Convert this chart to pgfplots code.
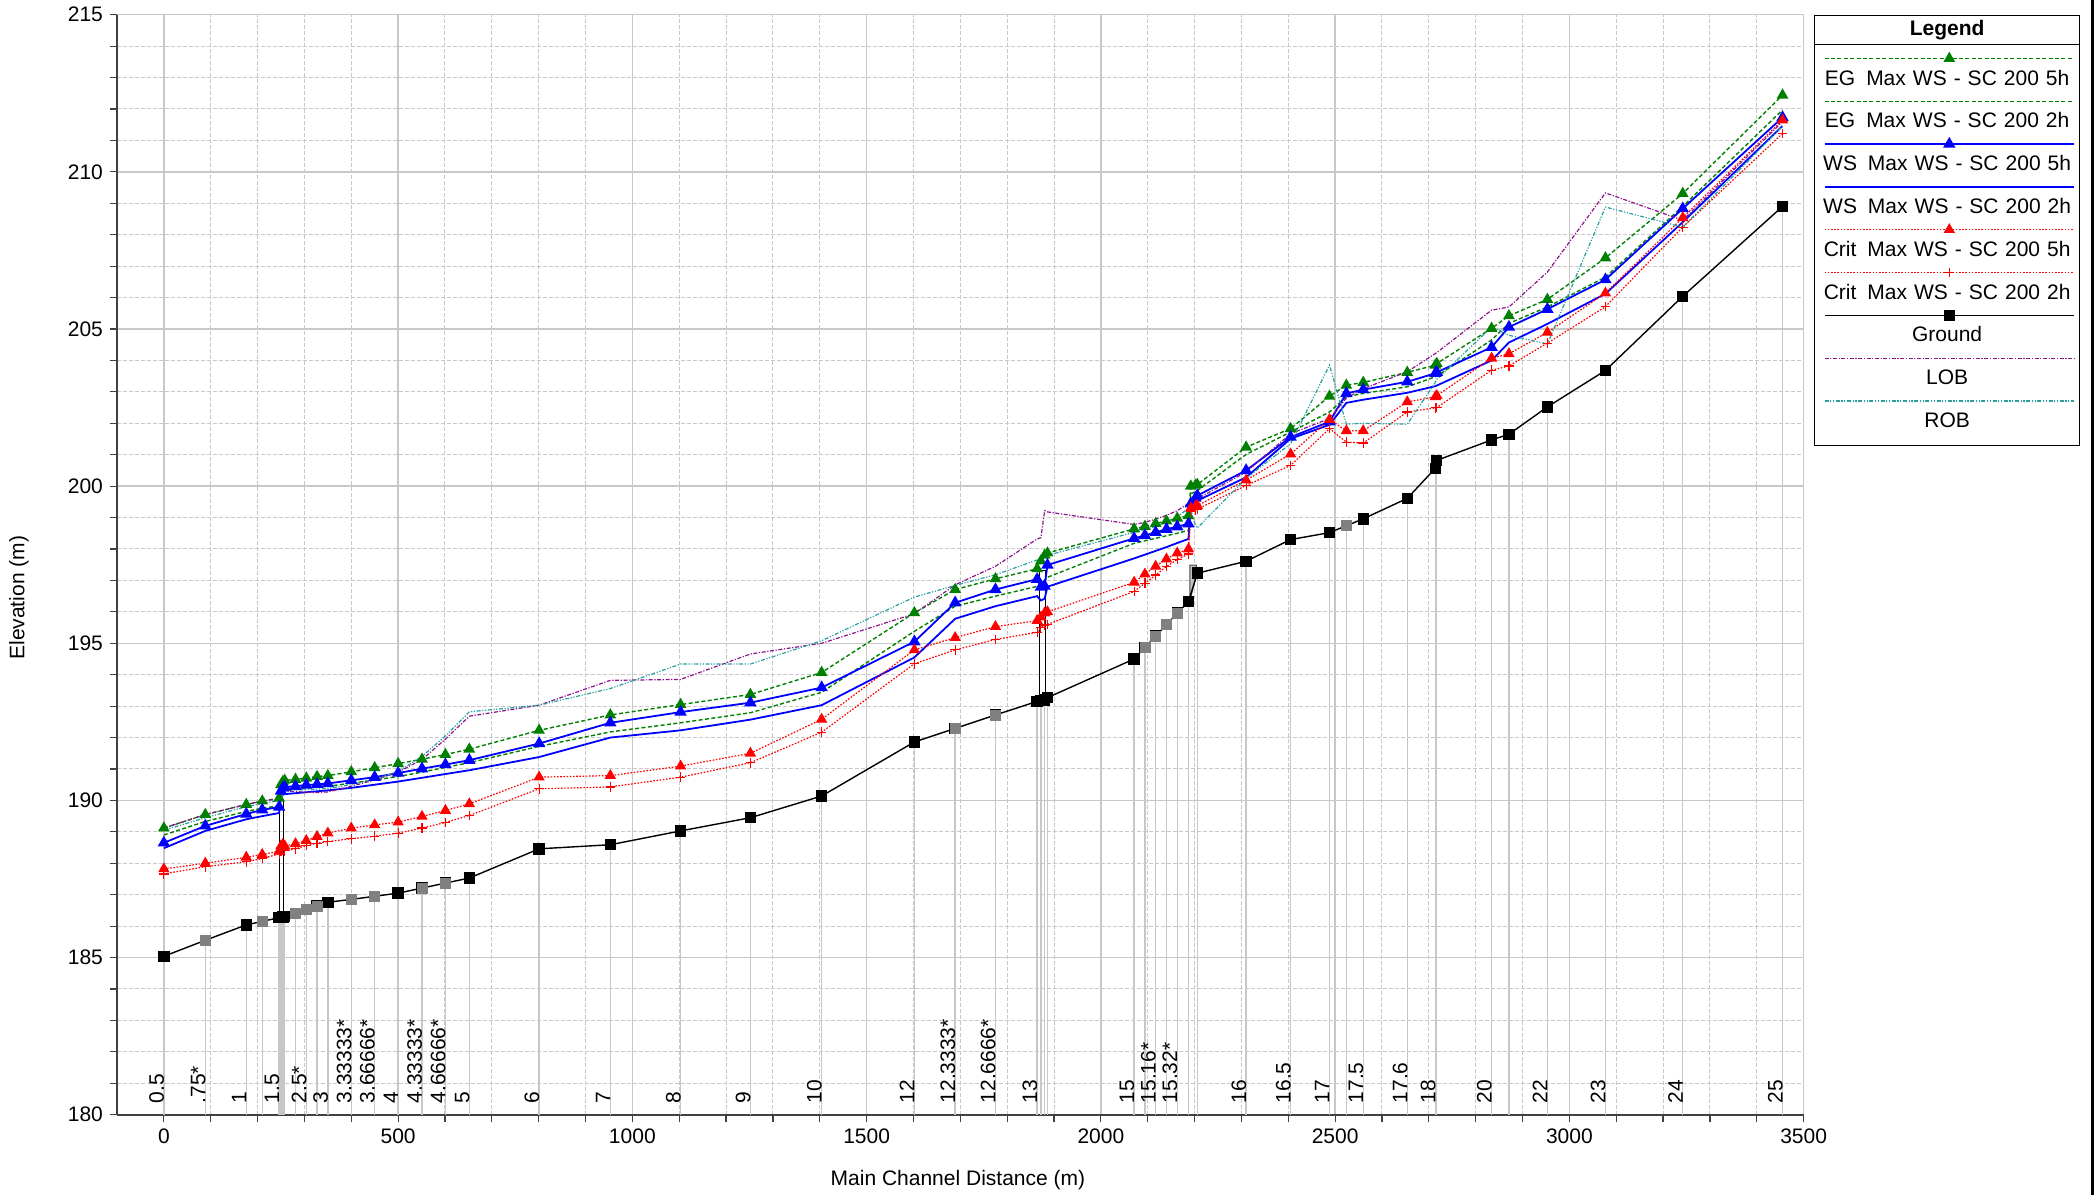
\documentclass[border=0pt]{standalone}
\usepackage{fontspec}
\setmainfont{Liberation Sans}
\setsansfont{Liberation Sans}
\usepackage{pgfplots}
\usepackage{pgfplotstable}
\pgfplotsset{compat=1.18}
\definecolor{egG}{RGB}{0,128,0}
\definecolor{wsB}{RGB}{0,0,255}
\definecolor{crR}{RGB}{255,0,0}
\definecolor{lobP}{RGB}{140,20,140}
\definecolor{robT}{RGB}{40,160,160}
\definecolor{gridG}{RGB}{200,200,200}
\newcommand{\fs}{\fontsize{10.5}{12}\selectfont}
\newcommand{\legap}{\hspace{5.5pt}}
\newcommand{\legtxt}[1]{\makebox[124.5pt][c]{#1}}

\pgfplotstableread{
x eg5 eg2 ws5 ws2 cr5 cr2 lob rob
0 189.12 188.90 188.65 188.48 187.82 187.66 189.12 189.05
88.5 189.55 189.33 189.19 189.03 188.00 187.89 189.55 189.45
176 189.87 189.65 189.57 189.40 188.19 188.05 189.87 189.80
210 189.98 189.75 189.70 189.50 188.28 188.15 189.98 189.90
246 190.07 189.83 189.79 189.60 188.38 188.30 190.05 190.00
250 190.50 190.20 190.30 190.10 188.55 188.40 190.10 190.05
254 190.60 190.30 190.40 190.18 188.60 188.42 190.20 190.20
258 190.64 190.33 190.43 190.20 188.55 188.40 190.30 190.32
281 190.67 190.36 190.45 190.23 188.62 188.46 190.28 190.33
304 190.71 190.39 190.49 190.26 188.72 188.56 190.26 190.34
327 190.76 190.42 190.51 190.29 188.85 188.64 190.25 190.36
350 190.79 190.45 190.54 190.32 188.96 188.69 190.27 190.38
400 190.91 190.55 190.64 190.40 189.12 188.78 190.45 190.50
450 191.04 190.65 190.74 190.50 189.22 188.86 190.65 190.68
500 191.17 190.76 190.87 190.60 189.31 188.96 190.90 190.92
551 191.31 190.90 191.01 190.72 189.49 189.12 191.30 191.40
601 191.46 191.05 191.14 190.84 189.68 189.30 191.95 192.05
652 191.63 191.20 191.28 190.96 189.89 189.52 192.68 192.82
801 192.23 191.72 191.81 191.38 190.74 190.37 193.03 193.03
953 192.72 192.18 192.47 192.00 190.79 190.43 193.82 193.56
1103 193.05 192.47 192.81 192.23 191.09 190.74 193.85 194.34
1252 193.37 192.79 193.11 192.57 191.50 191.20 194.66 194.34
1404 194.07 193.44 193.59 193.03 192.58 192.17 195.00 195.08
1602 195.97 195.38 195.05 194.55 194.79 194.35 195.94 196.47
1689 196.71 196.18 196.29 195.78 195.18 194.79 196.86 196.84
1775 197.05 196.50 196.71 196.18 195.53 195.12 197.45 197.18
1864 197.37 196.81 197.04 196.50 195.72 195.35 198.32 197.65
1872 197.62 196.90 196.79 196.36 195.83 195.50 198.36 197.68
1880 197.80 197.00 196.82 196.42 195.96 195.58 199.22 197.74
1886 197.87 197.10 197.49 196.80 196.00 195.60 199.18 197.80
2071 198.64 198.18 198.34 197.70 196.94 196.65 198.78 198.53
2094 198.72 198.26 198.43 197.82 197.20 196.91 198.85 198.62
2117 198.81 198.34 198.53 197.94 197.45 197.17 198.95 198.72
2140 198.89 198.42 198.63 198.06 197.68 197.44 199.07 198.86
2163 198.98 198.50 198.71 198.19 197.87 197.66 199.22 199.02
2187 199.06 198.59 198.80 198.32 198.00 197.84 199.45 199.30
2192 200.00 199.76 199.44 199.30 199.30 199.20 199.50 199.25
2202 200.03 199.82 199.62 199.46 199.36 199.25 199.56 198.75
2206 200.05 199.86 199.70 199.54 199.38 199.27 199.60 198.67
2310 201.24 201.01 200.50 200.28 200.19 200.02 200.45 200.25
2405 201.83 201.72 201.56 201.51 201.02 200.66 201.67 201.35
2488 202.86 202.36 202.05 201.95 202.12 201.83 202.15 203.85
2524 203.21 202.84 202.95 202.65 201.76 201.40 202.80 201.97
2560 203.30 202.95 203.07 202.75 201.76 201.37 203.10 202.00
2654 203.62 203.16 203.32 202.97 202.68 202.36 203.64 201.97
2714 203.85 203.48 203.59 203.18 202.84 202.49 204.22 203.30
2717 203.90 203.50 203.62 203.20 202.88 202.50 204.25 203.40
2834 205.02 204.65 204.42 204.00 204.07 203.69 205.60 205.06
2871 205.42 205.18 205.06 204.57 204.21 203.82 205.70 204.80
2953 205.94 205.70 205.63 205.16 204.89 204.55 206.81 204.52
3077 207.26 206.65 206.57 206.12 206.14 205.71 209.33 208.88
3242 209.31 208.90 208.83 208.40 208.54 208.24 208.46 208.24
3455 212.44 211.97 211.73 211.46 211.65 211.22 211.60 211.45
}\wstab

\pgfplotstableread{
x E
0 185.04
88.5 185.55
176 186.04
210 186.15
246 186.27
250 186.28
254 186.29
258 186.31
281 186.41
304 186.52
327 186.64
350 186.76
400 186.85
450 186.95
500 187.05
551 187.21
601 187.37
652 187.53
801 188.46
953 188.59
1103 189.03
1252 189.45
1404 190.14
1602 191.86
1689 192.29
1775 192.72
1864 193.15
1872 193.17
1880 193.20
1886 193.27
2071 194.50
2094 194.87
2117 195.23
2140 195.59
2163 195.96
2187 196.32
2206 197.23
2310 197.61
2405 198.30
2488 198.52
2524 198.74
2560 198.96
2654 199.61
2714 200.57
2717 200.82
2834 201.47
2871 201.65
2953 202.52
3077 203.68
3242 206.04
3455 208.90
}\grtab

\pgfplotstableread{
x E
88.5 185.55
210 186.15
281 186.41
304 186.52
327 186.64
400 186.85
450 186.95
551 187.21
601 187.37
1689 192.29
1775 192.72
2094 194.87
2117 195.23
2140 195.59
2163 195.96
2524 198.74
}\graytab

\begin{document}
\begin{tikzpicture}
\begin{axis}[
  name=ax,
  scale only axis, width=843.3pt, height=550pt,
  xmin=-100, xmax=3500, ymin=180, ymax=215,
  xtick={0,500,...,3500}, ytick={180,185,...,215},
  minor x tick num=4, minor y tick num=4,
  grid=both,
  major grid style={solid, draw=gridG, line width=0.7pt},
  minor grid style={draw=gridG, line width=0.5pt, dash pattern=on 2pt off 1pt},
  axis x line=bottom, axis y line=left,
  axis line style={-, draw=black!75, line width=0.9pt},
  tick align=outside, major tick length=3.5pt, minor tick length=3.5pt,
  tick style={draw=black!75, line width=0.6pt},
  ticklabel style={font=\fs},
  /pgf/number format/assume math mode=true,
  /pgf/number format/1000 sep={},
  label style={font=\fs},
  xlabel={Main Channel Distance (m)},
  ylabel={Elevation (m)},
  xlabel style={at={(axis description cs:0.4986,-0.0593)}, anchor=center},
  ylabel style={at={(axis description cs:-0.0581,0.47)}, anchor=center},
  legend style={at={(axis description cs:1.00617,1)}, anchor=north west,
    draw=black, line width=0.6pt, fill=white,
    inner xsep=4pt, inner ysep=2.15pt, row sep=10.9pt,
    /tikz/column sep=0pt, cells={anchor=base},
    nodes={inner sep=0pt, text width=124.5pt, align=center,
      text height=8pt, text depth=2.5pt, font=\fs}},
  legend image code/.code={\draw[overlay,mark repeat=2,mark phase=2,#1] plot coordinates {(1pt,13.3pt) (63.35pt,13.3pt) (125.7pt,13.3pt)};},
]
\addlegendimage{legend image code/.code={\draw[overlay,black,line width=0.6pt] (-4pt,-4.65pt) -- (128.5pt,-4.65pt);}}
\addlegendentry[text depth=5.85pt, font=\fs\bfseries]{\legtxt{Legend}}

% station lines
\addplot[ycomb, draw=black!22, line width=0.7pt, mark=none, forget plot] table[x=x,y=E]{\grtab};

% bridges
\addplot[black, line width=0.6pt, forget plot] coordinates {(247,186.28) (247,190.02) (256,190.02) (256,186.30)};
\addplot[black, line width=0.6pt, forget plot] coordinates {(1869,193.16) (1869,197.32) (1882,197.32) (1882,193.21)};
\addplot[draw=black!70, fill=black!25, line width=0.5pt, forget plot] coordinates {(2190,196.35) (2190,197.49) (2204,197.49) (2204,197.20) (2190,196.35)};

\addplot[egG, line width=0.7pt, dash pattern=on 2pt off 1.2pt, mark=triangle*, mark size=2.7pt, mark options={solid, fill=egG}] table[x=x,y=eg5]{\wstab};
\addlegendentry{\legtxt{EG\legap Max WS - SC 200 5h}}
\addplot[egG, line width=0.7pt, dash pattern=on 2pt off 1.2pt, mark=none] table[x=x,y=eg2]{\wstab};
\addlegendentry{\legtxt{EG\legap Max WS - SC 200 2h}}
\addplot[wsB, line width=0.9pt, solid, mark=triangle*, mark size=2.7pt, mark options={solid, fill=wsB}] table[x=x,y=ws5]{\wstab};
\addlegendentry{\legtxt{WS\legap Max WS - SC 200 5h}}
\addplot[wsB, line width=0.9pt, solid, mark=none] table[x=x,y=ws2]{\wstab};
\addlegendentry{\legtxt{WS\legap Max WS - SC 200 2h}}
\addplot[crR, line width=0.6pt, dash pattern=on 0.8pt off 0.8pt, mark=triangle*, mark size=2.7pt, mark options={solid, fill=crR}] table[x=x,y=cr5]{\wstab};
\addlegendentry{\legtxt{Crit\legap Max WS - SC 200 5h}}
\addplot[crR, line width=0.6pt, dash pattern=on 0.8pt off 0.8pt, mark=+, mark size=2.4pt, mark options={solid, line width=0.6pt}] table[x=x,y=cr2]{\wstab};
\addlegendentry{\legtxt{Crit\legap Max WS - SC 200 2h}}
\addplot[black, line width=0.7pt, solid, mark=square*, mark size=2.5pt, mark options={solid, fill=black}] table[x=x,y=E]{\grtab};
\addlegendentry{\legtxt{Ground}}
\addplot[only marks, mark=square*, mark size=2.5pt, draw=gray, fill=gray, forget plot] table[x=x,y=E]{\graytab};
\addplot[lobP, line width=0.6pt, dash pattern=on 2pt off 0.8pt on 0.6pt off 0.8pt, mark=none] table[x=x,y=lob]{\wstab};
\addlegendentry{\legtxt{LOB}}
\addplot[robT, line width=0.6pt, dash pattern=on 2pt off 0.8pt on 0.6pt off 0.8pt on 0.6pt off 0.8pt, mark=none] table[x=x,y=rob]{\wstab};
\addlegendentry[text depth=6.65pt]{\legtxt{ROB}}

% station labels
\begin{scope}[every node/.style={rotate=90, anchor=base west, inner sep=0pt, font=\fs}]
\node at (axis cs:0,180.35) {0.5};
\node at (axis cs:88.5,180.35) {.75*};
\node at (axis cs:176,180.35) {1};
\node at (axis cs:246,180.35) {1.5};
\node at (axis cs:304,180.35) {2.5*};
\node at (axis cs:350,180.35) {3};
\node at (axis cs:400,180.35) {3.33333*};
\node at (axis cs:450,180.35) {3.66666*};
\node at (axis cs:500,180.35) {4};
\node at (axis cs:551,180.35) {4.33333*};
\node at (axis cs:601,180.35) {4.66666*};
\node at (axis cs:652,180.35) {5};
\node at (axis cs:801,180.35) {6};
\node at (axis cs:953,180.35) {7};
\node at (axis cs:1103,180.35) {8};
\node at (axis cs:1252,180.35) {9};
\node at (axis cs:1404,180.35) {10};
\node at (axis cs:1602,180.35) {12};
\node at (axis cs:1689,180.35) {12.3333*};
\node at (axis cs:1775,180.35) {12.6666*};
\node at (axis cs:1864,180.35) {13};
\node at (axis cs:2071,180.35) {15};
\node at (axis cs:2117,180.35) {15.16*};
\node at (axis cs:2163,180.35) {15.32*};
\node at (axis cs:2310,180.35) {16};
\node at (axis cs:2405,180.35) {16.5};
\node at (axis cs:2488,180.35) {17};
\node at (axis cs:2560,180.35) {17.5};
\node at (axis cs:2654,180.35) {17.6};
\node at (axis cs:2714,180.35) {18};
\node at (axis cs:2834,180.35) {20};
\node at (axis cs:2953,180.35) {22};
\node at (axis cs:3077,180.35) {23};
\node at (axis cs:3242,180.35) {24};
\node at (axis cs:3455,180.35) {25};
\end{scope}
\end{axis}
\draw[line width=1.5pt] ([xshift=987.5pt,yshift=-40.1pt]ax.south west) -- ([xshift=987.5pt,yshift=557.35pt]ax.south west);
\pgfresetboundingbox
\path ([xshift=-58.5pt,yshift=-40.1pt]ax.south west) rectangle ([xshift=989.5pt,yshift=557.35pt]ax.south west);
\end{tikzpicture}
\end{document}
